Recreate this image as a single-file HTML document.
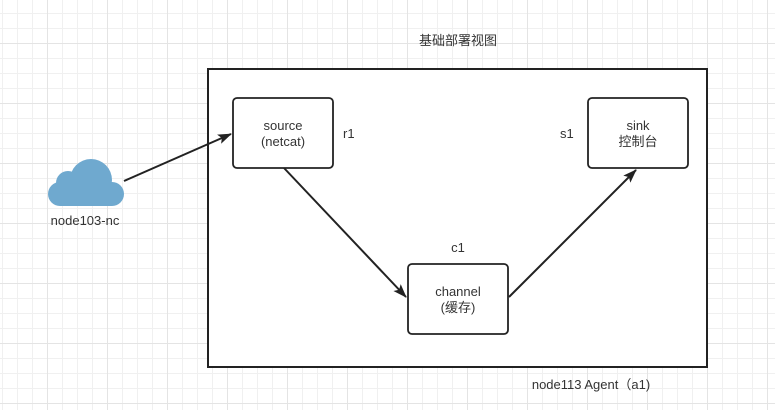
<!DOCTYPE html>
<html><head><meta charset="utf-8"><style>
html,body{margin:0;padding:0}
body{width:775px;height:410px;overflow:hidden;background:#fff;
background-image:linear-gradient(#e4e4e4 1px,transparent 1px),linear-gradient(90deg,#e4e4e4 1px,transparent 1px),linear-gradient(#f0f0f0 1px,transparent 1px),linear-gradient(90deg,#f0f0f0 1px,transparent 1px);
background-size:60px 60px,60px 60px,15px 15px,15px 15px;background-position:2px 43px,47px 0,2px 13px,2px 0;
font-family:"Liberation Sans","Noto Sans CJK SC",sans-serif;color:#333}
</style></head><body>
<svg width="775" height="410" style="position:absolute;left:0;top:0" font-family="Liberation Sans, Noto Sans CJK SC, sans-serif" font-size="13" fill="#333">
<defs><marker id="a" markerWidth="14" markerHeight="12" refX="13" refY="6" orient="auto" markerUnits="userSpaceOnUse"><path d="M0,1 L14,6 L0,11 L3,6 z" fill="#222"/></marker></defs>
<rect x="208" y="69" width="499" height="298" fill="#fff" stroke="#222" stroke-width="2"/>
<rect x="233" y="98" width="100" height="70" rx="4" fill="#fff" stroke="#222" stroke-width="1.8"/>
<rect x="588" y="98" width="100" height="70" rx="4" fill="#fff" stroke="#222" stroke-width="1.8"/>
<rect x="408" y="264" width="100" height="70" rx="4" fill="#fff" stroke="#222" stroke-width="1.8"/>
<g fill="#6fa9cf">
<circle cx="91" cy="180" r="21"/><circle cx="68" cy="183" r="12"/><circle cx="60" cy="194" r="12"/><circle cx="112" cy="194" r="12"/>
<rect x="60" y="182" width="52" height="24"/>
</g>
<line x1="124" y1="181" x2="231" y2="134" stroke="#222" stroke-width="2" marker-end="url(#a)"/>
<line x1="284" y1="168" x2="406" y2="297" stroke="#222" stroke-width="2" marker-end="url(#a)"/>
<line x1="509" y1="297" x2="636" y2="170" stroke="#222" stroke-width="2" marker-end="url(#a)"/>
<g text-anchor="middle">
<text x="283" y="130">source</text><text x="283" y="146">(netcat)</text>
<text x="638" y="130">sink</text><text x="638" y="146">控制台</text>
<text x="458" y="296">channel</text><text x="458" y="312">(缓存)</text>
<text x="85" y="225">node103-nc</text>
<text x="458" y="45">基础部署视图</text>
<text x="458" y="252">c1</text>
<text x="591" y="389">node113 Agent（a1)</text>
</g>
<text x="343" y="138">r1</text>
<text x="560" y="138">s1</text>
</svg>
</body></html>
